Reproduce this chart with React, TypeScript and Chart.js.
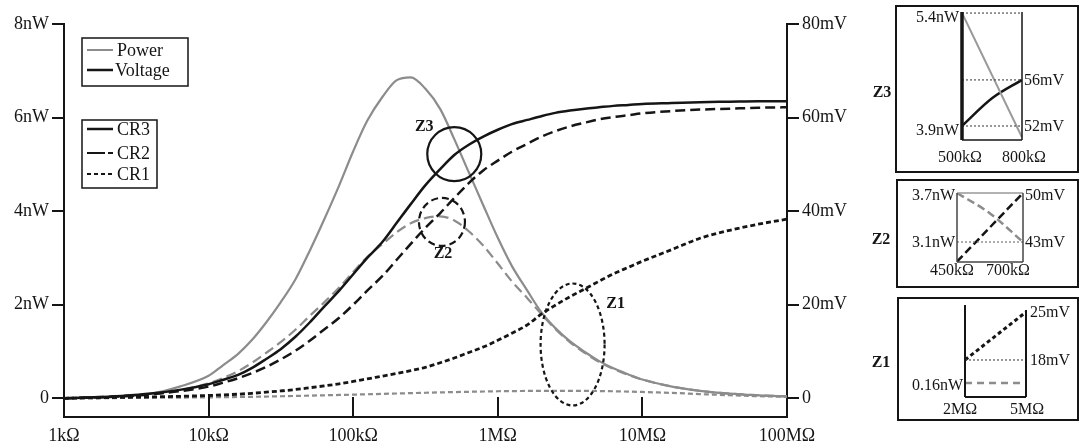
import React, { useEffect, useRef } from 'react';
import { Chart, registerables } from 'chart.js';

Chart.register(...registerables);

const SERIF = '"Liberation Serif", "Times New Roman", serif';
const INK = '#151515';
const GRAY = '#8c8c8c';

// ---- Load sweep (Ω), R10 preferred numbers ----
const resistance = [
  1e3, 1.6e3, 2.5e3, 4e3, 6.3e3,
  1e4, 1.25e4, 1.6e4, 2e4, 2.5e4, 3.15e4, 4e4, 5e4, 6.3e4, 8e4,
  1e5, 1.25e5, 1.6e5, 2e5, 2.5e5, 3.15e5, 4e5, 5e5, 6.3e5, 8e5,
  1e6, 1.25e6, 1.6e6, 2e6, 2.5e6, 3.15e6, 4e6, 5e6, 6.3e6, 8e6,
  1e7, 1.6e7, 2.5e7, 4e7, 6.3e7, 1e8,
];

// ---- Harvested power (nW) ----
const powerCR3 = [
  0, 0.015, 0.04, 0.1, 0.25,
  0.48, 0.7, 0.95, 1.25, 1.62, 2.05, 2.55, 3.15, 3.82, 4.55,
  5.28, 5.93, 6.45, 6.8, 6.86, 6.62, 6.18, 5.54, 4.83, 4.1,
  3.43, 2.83, 2.3, 1.84, 1.5, 1.22, 0.99, 0.8, 0.64, 0.51,
  0.4, 0.25, 0.16, 0.1, 0.065, 0.04,
];
const powerCR2 = [
  0, 0.01, 0.03, 0.08, 0.17,
  0.32, 0.43, 0.58, 0.76, 0.97, 1.2, 1.47, 1.76, 2.05, 2.37,
  2.7, 3.02, 3.3, 3.55, 3.74, 3.85, 3.89, 3.8, 3.57, 3.25,
  2.88, 2.5, 2.14, 1.8, 1.48, 1.2, 0.97, 0.78, 0.63, 0.5,
  0.4, 0.25, 0.16, 0.1, 0.065, 0.04,
];
const powerCR1 = [
  0, 0.003, 0.006, 0.01, 0.015,
  0.02, 0.024, 0.028, 0.032, 0.037, 0.043, 0.05, 0.057, 0.064, 0.071,
  0.078, 0.086, 0.094, 0.102, 0.11, 0.118, 0.126, 0.133, 0.139, 0.145,
  0.15, 0.154, 0.157, 0.16, 0.16, 0.16, 0.158, 0.155, 0.15, 0.143,
  0.135, 0.115, 0.09, 0.065, 0.045, 0.03,
];

// ---- Output voltage (mV) ----
const voltageCR3 = [
  0, 0.2, 0.5, 1.0, 1.8,
  3.0, 3.9, 5.0, 6.5, 8.4, 10.5, 13.2, 16.2, 19.6, 23,
  26.5, 30, 33.5, 37.5, 41.5, 45.5, 49, 52, 54.2, 56,
  57.4, 58.6, 59.5, 60.3, 61, 61.5, 61.9, 62.2, 62.5, 62.7,
  62.9, 63.1, 63.3, 63.4, 63.5, 63.5,
];
const voltageCR2 = [
  0, 0.2, 0.45, 0.85, 1.5,
  2.5, 3.3, 4.3, 5.4, 6.7, 8.3, 10.2, 12.3, 14.7, 17.2,
  20, 23, 26.2, 29.6, 33, 36.4, 39.6, 42.8, 46, 48.8,
  50.8, 52.7, 54.4, 55.9, 57.1, 58.1, 58.9, 59.6, 60.1, 60.5,
  60.9, 61.4, 61.7, 61.9, 62.1, 62.2,
];
const voltageCR1 = [
  0, 0.1, 0.2, 0.3, 0.42,
  0.6, 0.72, 0.88, 1.07, 1.3, 1.57, 1.88, 2.25, 2.65, 3.1,
  3.6, 4.15, 4.75, 5.3, 5.9, 6.6, 7.6, 8.6, 9.8, 11.0,
  12.4, 13.9, 15.7, 18, 19.9, 21.7, 23.4, 25, 26.6, 28,
  29.3, 31.8, 34.2, 35.9, 37.2, 38.3,
];

// ---- Axis ticks ----
const resistanceTicks = [1e3, 1e4, 1e5, 1e6, 1e7, 1e8];
const resistanceTickLabels = ['1kΩ', '10kΩ', '100kΩ', '1MΩ', '10MΩ', '100MΩ'];
const powerTicks = [0, 2, 4, 6, 8];
const powerTickLabels = ['0', '2nW', '4nW', '6nW', '8nW'];
const voltageTicks = [0, 20, 40, 60, 80];
const voltageTickLabels = ['0', '20mV', '40mV', '60mV', '80mV'];

// ---- Zoom window Z3 (500kΩ–800kΩ, CR3) ----
const z3PowerR = [500, 800]; // kΩ
const z3Power = [5.4, 3.75]; // nW
const z3VoltageR = [500, 650, 800]; // kΩ
const z3Voltage = [52, 54.4, 56]; // mV

// ---- Zoom window Z2 (450kΩ–700kΩ, CR2) ----
const z2PowerR = [450, 575, 700];
const z2Power = [3.7, 3.45, 3.1];
const z2VoltageR = [450, 700];
const z2Voltage = [40.2, 50];

// ---- Zoom window Z1 (2MΩ–5MΩ, CR1) ----
const z1R = [2, 5]; // MΩ
const z1Power = [0.16, 0.16];
const z1Voltage = [18, 25];

const pts = (xs: number[], ys: number[]) => xs.map((x, i) => ({ x, y: ys[i] }));

// Circled regions on the main plot (centre in data units, radii in px)
const zoomMarks = [
  { name: 'Z3', r: 5.0e5, value: 5.22, rx: 27, ry: 27, dash: [] as number[], labelDx: -30, labelDy: -27 },
  { name: 'Z2', r: 4.11e5, value: 3.77, rx: 23, ry: 24, dash: [7, 4], labelDx: 1, labelDy: 32 },
  { name: 'Z1', r: 3.29e6, value: 1.15, rx: 32, ry: 61, dash: [4, 3], labelDx: 43, labelDy: -41 },
];

function txt(
  ctx: CanvasRenderingContext2D,
  s: string,
  x: number,
  y: number,
  align: CanvasTextAlign,
  size = 16,
  bold = false,
) {
  ctx.font = `${bold ? 'bold ' : ''}${size}px ${SERIF}`;
  ctx.fillStyle = INK;
  ctx.textAlign = align;
  ctx.textBaseline = 'middle';
  ctx.fillText(s, x, y);
}

function seg(
  ctx: CanvasRenderingContext2D,
  x1: number,
  y1: number,
  x2: number,
  y2: number,
  color: string,
  width: number,
  dash: number[] = [],
) {
  ctx.save();
  ctx.strokeStyle = color;
  ctx.lineWidth = width;
  ctx.setLineDash(dash);
  ctx.beginPath();
  ctx.moveTo(x1, y1);
  ctx.lineTo(x2, y2);
  ctx.stroke();
  ctx.restore();
}

const mainDecor = {
  id: 'mainDecor',
  afterDatasetsDraw(chart: any) {
    const { ctx, chartArea: a, scales } = chart;
    const xs = scales.x;
    const ys = scales.y;
    ctx.save();

    // inward tick marks on the resistance axis
    resistanceTicks.slice(1, -1).forEach((v) => {
      const px = Math.round(xs.getPixelForValue(v));
      seg(ctx, px, a.bottom, px, a.bottom - 20, INK, 2);
    });

    // legend: quantity
    ctx.strokeStyle = INK;
    ctx.lineWidth = 1.5;
    ctx.strokeRect(82, 38, 106, 48);
    seg(ctx, 87, 50, 113, 50, GRAY, 2);
    txt(ctx, 'Power', 117, 51, 'left', 18);
    seg(ctx, 87, 70, 113, 70, INK, 2.5);
    txt(ctx, 'Voltage', 115, 71, 'left', 18);

    // legend: device
    ctx.strokeStyle = INK;
    ctx.lineWidth = 1.5;
    ctx.strokeRect(82, 120, 75, 68);
    seg(ctx, 87, 129, 113, 129, INK, 2.5);
    txt(ctx, 'CR3', 117, 130, 'left', 18);
    seg(ctx, 87, 153, 113, 153, INK, 2, [18, 3]);
    txt(ctx, 'CR2', 117, 154, 'left', 18);
    seg(ctx, 87, 174, 113, 174, INK, 2, [4, 3]);
    txt(ctx, 'CR1', 117, 175, 'left', 18);

    // circled regions
    zoomMarks.forEach((m) => {
      const cx = xs.getPixelForValue(m.r);
      const cy = ys.getPixelForValue(m.value);
      ctx.save();
      ctx.strokeStyle = INK;
      ctx.lineWidth = 2.2;
      ctx.setLineDash(m.dash);
      ctx.beginPath();
      ctx.ellipse(cx, cy, m.rx, m.ry, 0, 0, Math.PI * 2);
      ctx.stroke();
      ctx.restore();
      txt(ctx, m.name, cx + m.labelDx, cy + m.labelDy, 'center', 16, true);
    });
    ctx.restore();
  },
};

function mainConfig(): any {
  const line = (data: number[], color: string, width: number, dash: number[], axis: string) => ({
    data: pts(resistance, data),
    borderColor: color,
    borderWidth: width,
    borderDash: dash,
    yAxisID: axis,
    fill: false,
  });
  return {
    type: 'line',
    data: {
      datasets: [
        line(voltageCR3, INK, 2.5, [], 'y1'),
        line(voltageCR2, INK, 2.5, [10, 5], 'y1'),
        line(voltageCR1, INK, 2.8, [5, 3], 'y1'),
        line(powerCR3, GRAY, 2.2, [], 'y'),
        line(powerCR2, GRAY, 2.2, [10, 5], 'y'),
        line(powerCR1, GRAY, 2.2, [5, 3], 'y'),
      ],
    },
    options: {
      animation: false,
      responsive: false,
      devicePixelRatio: 1,
      layout: { padding: { top: 24, left: 0, right: 0, bottom: 0 } },
      plugins: { legend: { display: false }, tooltip: { enabled: false } },
      elements: { point: { radius: 0 }, line: { cubicInterpolationMode: 'monotone' } },
      scales: {
        x: {
          type: 'logarithmic',
          min: 1e3,
          max: 1e8,
          afterBuildTicks: (s: any) => {
            s.ticks = resistanceTicks.map((v) => ({ value: v }));
          },
          afterFit: (s: any) => {
            s.height = 28;
          },
          border: { display: true, color: INK, width: 2 },
          grid: { display: true, drawOnChartArea: false, drawTicks: false, color: INK },
          ticks: {
            autoSkip: false,
            maxRotation: 0,
            padding: 8,
            color: INK,
            font: { family: SERIF, size: 18 },
            callback: (v: number) => resistanceTickLabels[resistanceTicks.indexOf(v)] ?? '',
          },
        },
        y: {
          type: 'linear',
          position: 'left',
          min: -0.4,
          max: 8,
          afterBuildTicks: (s: any) => {
            s.ticks = powerTicks.map((v) => ({ value: v }));
          },
          afterFit: (s: any) => {
            s.width = 64;
          },
          border: { display: true, color: INK, width: 2 },
          grid: { drawOnChartArea: false, drawTicks: true, tickLength: 12, color: INK, lineWidth: 2 },
          ticks: {
            padding: 3,
            color: INK,
            font: { family: SERIF, size: 18 },
            callback: (v: number) => powerTickLabels[powerTicks.indexOf(v)] ?? '',
          },
        },
        y1: {
          type: 'linear',
          position: 'right',
          min: -4,
          max: 80,
          afterBuildTicks: (s: any) => {
            s.ticks = voltageTicks.map((v) => ({ value: v }));
          },
          afterFit: (s: any) => {
            s.width = 293;
          },
          border: { display: true, color: INK, width: 2 },
          grid: { drawOnChartArea: false, drawTicks: true, tickLength: 12, color: INK, lineWidth: 2 },
          ticks: {
            padding: 3,
            color: INK,
            font: { family: SERIF, size: 18 },
            callback: (v: number) => voltageTickLabels[voltageTicks.indexOf(v)] ?? '',
          },
        },
      },
    },
    plugins: [mainDecor],
  };
}

type InsetSpec = {
  padding: { left: number; top: number; right: number; bottom: number };
  x: [number, number];
  y: [number, number];
  y1: [number, number];
  datasets: any[];
  decorate: (chart: any) => void;
};

function insetConfig(spec: InsetSpec): any {
  return {
    type: 'line',
    data: { datasets: spec.datasets },
    options: {
      animation: false,
      responsive: false,
      devicePixelRatio: 1,
      layout: { padding: spec.padding },
      plugins: { legend: { display: false }, tooltip: { enabled: false } },
      elements: { point: { radius: 0 }, line: { cubicInterpolationMode: 'monotone' } },
      scales: {
        x: { type: 'linear', display: false, min: spec.x[0], max: spec.x[1] },
        y: { type: 'linear', display: false, min: spec.y[0], max: spec.y[1] },
        y1: { type: 'linear', display: false, min: spec.y1[0], max: spec.y1[1] },
      },
    },
    plugins: [{ id: 'insetDecor', afterDatasetsDraw: spec.decorate }],
  };
}

const z3Spec: InsetSpec = {
  padding: { left: 962, top: 12, right: 58, bottom: 305 },
  x: [500, 800],
  y: [3.714, 5.414],
  y1: [50.78, 61.9],
  datasets: [
    { data: pts(z3PowerR, z3Power), yAxisID: 'y', borderColor: '#999', borderWidth: 2 },
    { data: pts(z3VoltageR, z3Voltage), yAxisID: 'y1', borderColor: INK, borderWidth: 2.5 },
  ],
  decorate(chart: any) {
    const { ctx, chartArea: a, scales } = chart;
    const p = (v: number) => scales.y.getPixelForValue(v);
    const u = (v: number) => scales.y1.getPixelForValue(v);
    const xr = (v: number) => scales.x.getPixelForValue(v);
    ctx.save();
    ctx.strokeStyle = INK;
    ctx.lineWidth = 2;
    ctx.strokeRect(896, 6, 182, 166);
    const dotted = [2, 2];
    seg(ctx, a.left, p(5.4), a.right, p(5.4), '#555', 1.2, dotted);
    seg(ctx, a.left, u(56), a.right, u(56), '#555', 1.2, dotted);
    seg(ctx, a.left, p(3.9), a.right, p(3.9), '#555', 1.2, dotted);
    seg(ctx, a.left, a.top, a.left, a.bottom, INK, 3.5);
    seg(ctx, a.right, a.top, a.right, a.bottom, INK, 1.5);
    seg(ctx, a.left, a.bottom, a.right, a.bottom, INK, 1.5);
    txt(ctx, '5.4nW', a.left - 3, p(5.4) + 5, 'right');
    txt(ctx, '3.9nW', a.left - 3, p(3.9) + 5, 'right');
    txt(ctx, '56mV', a.right + 2, u(56) + 1, 'left');
    txt(ctx, '52mV', a.right + 2, u(52) + 1, 'left');
    txt(ctx, '500kΩ', xr(500) - 2, a.bottom + 18, 'center');
    txt(ctx, '800kΩ', xr(800) + 2, a.bottom + 18, 'center');
    txt(ctx, 'Z3', 882, 93, 'center', 16, true);
    ctx.restore();
  },
};

const z2Spec: InsetSpec = {
  padding: { left: 957, top: 193, right: 57, bottom: 183 },
  x: [450, 700],
  y: [2.855, 3.7],
  y1: [40.14, 50],
  datasets: [
    { data: pts(z2PowerR, z2Power), yAxisID: 'y', borderColor: GRAY, borderWidth: 2.5, borderDash: [8, 4] },
    { data: pts(z2VoltageR, z2Voltage), yAxisID: 'y1', borderColor: INK, borderWidth: 2.5, borderDash: [8, 4] },
  ],
  decorate(chart: any) {
    const { ctx, chartArea: a, scales } = chart;
    const p = (v: number) => scales.y.getPixelForValue(v);
    const u = (v: number) => scales.y1.getPixelForValue(v);
    ctx.save();
    ctx.strokeStyle = INK;
    ctx.lineWidth = 2;
    ctx.strokeRect(897, 180, 181, 107);
    seg(ctx, a.left, p(3.7), a.right, p(3.7), '#999', 1.5);
    seg(ctx, a.left, p(3.1), a.right, p(3.1), '#777', 1.2, [2, 2]);
    seg(ctx, a.left, a.top, a.left, a.bottom, '#444', 1.5);
    seg(ctx, a.right, a.top, a.right, a.bottom, '#444', 1.5);
    seg(ctx, a.left, a.bottom, a.right, a.bottom, '#444', 1.5);
    txt(ctx, '3.7nW', a.left - 2, p(3.7) + 3, 'right');
    txt(ctx, '3.1nW', a.left - 2, p(3.1) + 1, 'right');
    txt(ctx, '50mV', a.right + 2, u(50) + 3, 'left');
    txt(ctx, '43mV', a.right + 2, u(43) + 1, 'left');
    txt(ctx, '450kΩ', a.left - 5, a.bottom + 9, 'center');
    txt(ctx, '700kΩ', a.right - 15, a.bottom + 9, 'center');
    txt(ctx, 'Z2', 881, 240, 'center', 16, true);
    ctx.restore();
  },
};

const z1Spec: InsetSpec = {
  padding: { left: 965, top: 305, right: 54, bottom: 48 },
  x: [2, 5],
  y: [0.1, 0.494],
  y1: [12.6, 26.02],
  datasets: [
    { data: pts(z1R, z1Power), yAxisID: 'y', borderColor: GRAY, borderWidth: 2.5, borderDash: [7, 5] },
    { data: pts(z1R, z1Voltage), yAxisID: 'y1', borderColor: INK, borderWidth: 3, borderDash: [4, 3] },
  ],
  decorate(chart: any) {
    const { ctx, chartArea: a, scales } = chart;
    const p = (v: number) => scales.y.getPixelForValue(v);
    const u = (v: number) => scales.y1.getPixelForValue(v);
    ctx.save();
    ctx.strokeStyle = INK;
    ctx.lineWidth = 2;
    ctx.strokeRect(898, 298, 180, 122);
    seg(ctx, a.left, u(18), a.right, u(18), '#555', 1.2, [2, 2]);
    seg(ctx, a.left, a.top, a.left, a.bottom, INK, 2);
    seg(ctx, a.right, a.top + 5, a.right, a.bottom, INK, 2);
    seg(ctx, a.left, a.bottom, a.right, a.bottom, INK, 2);
    txt(ctx, '25mV', a.right + 4, u(25) + 1, 'left');
    txt(ctx, '18mV', a.right + 4, u(18) + 1, 'left');
    txt(ctx, '0.16nW', a.left - 2, p(0.16) + 3, 'right');
    txt(ctx, '2MΩ', a.left - 5, a.bottom + 13, 'center');
    txt(ctx, '5MΩ', a.right + 1, a.bottom + 13, 'center');
    txt(ctx, 'Z1', 881, 363, 'center', 16, true);
    ctx.restore();
  },
};

const layer: React.CSSProperties = { position: 'absolute', left: 0, top: 0, width: 1080, height: 445 };

export default function App() {
  const mainRef = useRef<HTMLCanvasElement>(null);
  const z3Ref = useRef<HTMLCanvasElement>(null);
  const z2Ref = useRef<HTMLCanvasElement>(null);
  const z1Ref = useRef<HTMLCanvasElement>(null);

  useEffect(() => {
    Chart.defaults.font.family = SERIF;
    const charts = [
      new Chart(mainRef.current!, mainConfig()),
      new Chart(z3Ref.current!, insetConfig(z3Spec)),
      new Chart(z2Ref.current!, insetConfig(z2Spec)),
      new Chart(z1Ref.current!, insetConfig(z1Spec)),
    ];
    return () => charts.forEach((c) => c.destroy());
  }, []);

  return (
    <div style={{ position: 'fixed', left: 0, top: 0, width: 1080, height: 445, background: '#fff' }}>
      <canvas ref={mainRef} width={1080} height={445} style={layer} />
      <canvas ref={z3Ref} width={1080} height={445} style={{ ...layer, pointerEvents: 'none' }} />
      <canvas ref={z2Ref} width={1080} height={445} style={{ ...layer, pointerEvents: 'none' }} />
      <canvas ref={z1Ref} width={1080} height={445} style={{ ...layer, pointerEvents: 'none' }} />
    </div>
  );
}
